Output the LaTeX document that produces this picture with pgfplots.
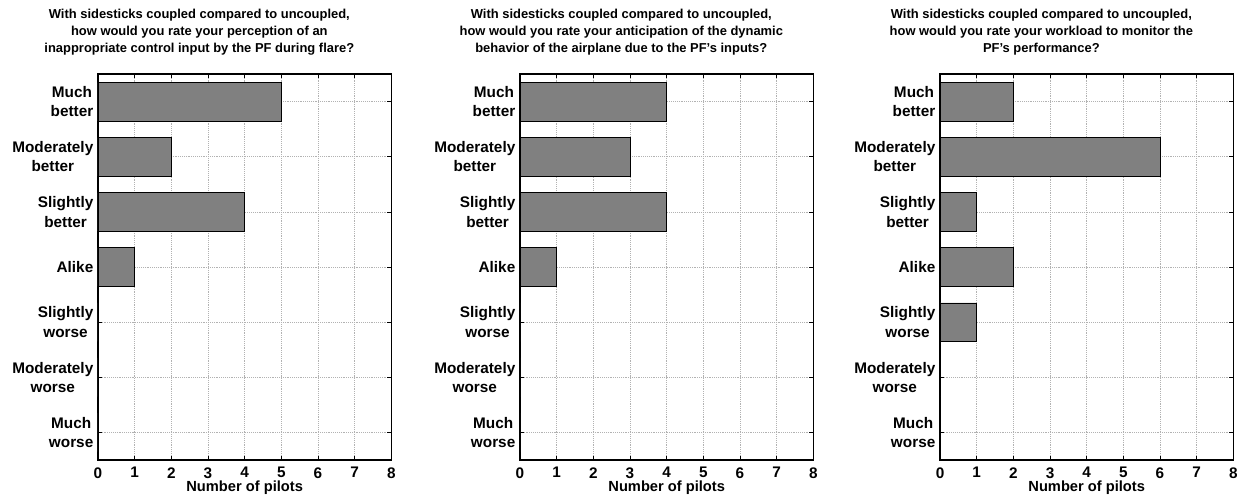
\documentclass[border=0pt]{standalone}
\usepackage{fontspec}
\setmainfont{Liberation Sans}
\usepackage{pgfplots}
\pgfplotsset{compat=1.18}
\definecolor{barg}{rgb}{0.5,0.5,0.5}
\pgfplotsset{
  pilots/.style={
    scale only axis,
    width=220pt, height=289.5pt,
    xbar, bar width=0.7,
    xmin=0, xmax=8, xtick={0,1,...,8},
    ymin=0.5, ymax=7.5, y dir=reverse,
    ytick={1,...,7},
    yticklabels={{Much\\better},{Moderately\\better},{Slightly\\better},{Alike},{Slightly\\worse},{Moderately\\worse},{Much\\worse}},
    yticklabel style={align=center, font=\bfseries\fontsize{11.5}{14.5}\selectfont},
    xticklabel style={font=\bfseries\fontsize{11.5}{12}\selectfont, yshift=-2pt},
    /pgf/number format/assume math mode=true,
    xlabel={Number of pilots},
    xlabel style={font=\bfseries\fontsize{11}{12}\selectfont, yshift=5pt},
    title style={font=\bfseries\fontsize{9.7}{12.75}\selectfont, align=center, yshift=4.5pt, xshift=-34pt},
    grid=major,
    major grid style={densely dotted, gray!60, line width=0.5pt},
    tick align=inside,
    major tick length=3pt,
    tick style={black, line width=0.5pt},
    axis line style={line width=1pt},
    cycle list={{fill=barg, draw=black, line width=0.6pt}},
  }
}
\begin{document}
\begin{tikzpicture}
\useasboundingbox (-73.5pt,-30pt) rectangle (859.5pt,345pt);
\begin{axis}[pilots, at={(0pt,0pt)},
  title={With sidesticks coupled compared to uncoupled,\\how would you rate your perception of an\\inappropriate control input by the PF during flare?}]
\addplot coordinates {(5,1) (2,2) (4,3) (1,4) (0,5) (0,6) (0,7)};
\end{axis}
\begin{axis}[pilots, at={(316.5pt,0pt)},
  title={With sidesticks coupled compared to uncoupled,\\how would you rate your anticipation of the dynamic\\behavior of the airplane due to the PF's inputs?}]
\addplot coordinates {(4,1) (3,2) (4,3) (1,4) (0,5) (0,6) (0,7)};
\end{axis}
\begin{axis}[pilots, at={(631.5pt,0pt)},
  title={With sidesticks coupled compared to uncoupled,\\how would you rate your workload to monitor the\\PF's performance?}]
\addplot coordinates {(2,1) (6,2) (1,3) (2,4) (1,5) (0,6) (0,7)};
\end{axis}
\end{tikzpicture}
\end{document}
